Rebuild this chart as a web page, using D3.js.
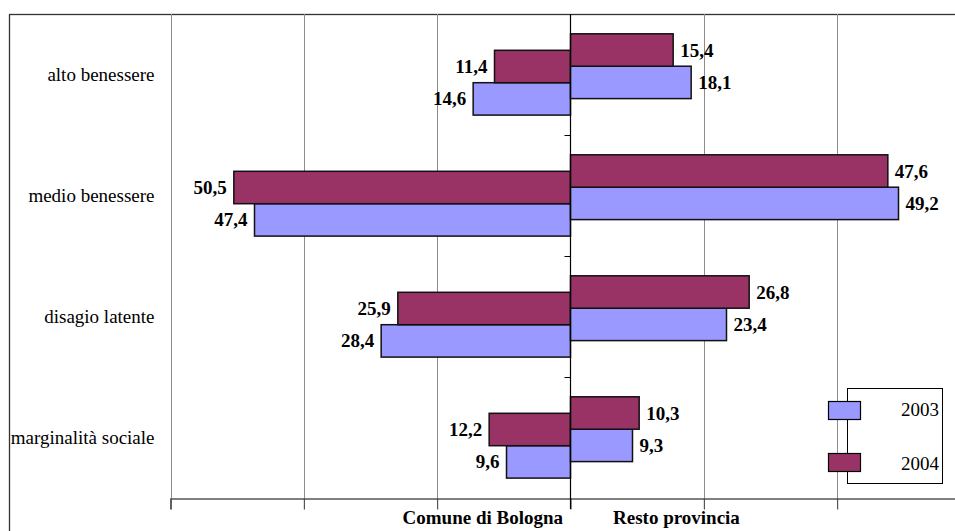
<!DOCTYPE html>
<html>
<head>
<meta charset="utf-8">
<script src="https://cdn.jsdelivr.net/npm/d3@7"></script>
<style>
  html, body { margin: 0; padding: 0; background: #fff; }
  svg { display: block; }
  svg text { font-family: "Liberation Serif", "Times New Roman", Times, "DejaVu Serif", serif; }
</style>
</head>
<body>
<svg id="chart" width="955" height="531"></svg>
<script>
// Categories and values (percentages) for the two areas and two years
const categories = ["alto benessere", "medio benessere", "disagio latente", "marginalità sociale"];
const years = ["2003", "2004"];
const comune2003 = [14.6, 47.4, 28.4, 9.6];
const comune2004 = [11.4, 50.5, 25.9, 12.2];
const provincia2003 = [18.1, 49.2, 23.4, 9.3];
const provincia2004 = [15.4, 47.6, 26.8, 10.3];
const xTicks = [-60, -40, -20, 0, 20, 40, 60];
const sideLabels = ["Comune di Bologna", "Resto provincia"];

const colors = { "2003": "#9999FF", "2004": "#993366" };

const svg = d3.select("#chart");

// Plot geometry
const plotTop = 14, plotBottom = 498;
const x = d3.scaleLinear().domain([-60, 60]).range([170.5, 970.5]);
const y = d3.scaleBand().domain(categories).range([plotTop, plotBottom]).padding(0);
const barH = 32.4;
// each area's pair of bars is shifted slightly off the category centre
const sideShift = { comune: 8.2, provincia: -8.3 };
const inner = d3.scaleBand().domain(["2004", "2003"]).range([0, 2 * barH]);

const fmt = d3.formatLocale({ decimal: ",", thousands: ".", grouping: [3], currency: ["€", ""] }).format(".1f");

// outer frame
svg.append("rect")
  .attr("x", 9.5).attr("y", 14.5)
  .attr("width", 1000).attr("height", 600)
  .attr("fill", "none").attr("stroke", "#333").attr("stroke-width", 1.3);

// vertical gridlines
svg.append("g").selectAll("line")
  .data(xTicks.filter(t => t !== 0))
  .join("line")
  .attr("x1", d => Math.round(x(d)) + 0.5).attr("x2", d => Math.round(x(d)) + 0.5)
  .attr("y1", plotTop).attr("y2", plotBottom)
  .attr("stroke", "#8c8c8c").attr("stroke-width", 1);

// bottom axis
const xAxis = d3.axisBottom(x).tickValues(xTicks).tickSize(11).tickFormat("");
const gx = svg.append("g").attr("transform", `translate(0,${plotBottom + 0.5})`).call(xAxis);
gx.select(".domain").attr("stroke", "#555").attr("stroke-width", 1.3);
gx.selectAll(".tick line").attr("stroke", "#333");

// build rows
const rows = [];
categories.forEach((c, i) => {
  rows.push({ cat: c, side: "comune", year: "2003", v: comune2003[i] });
  rows.push({ cat: c, side: "comune", year: "2004", v: comune2004[i] });
  rows.push({ cat: c, side: "provincia", year: "2003", v: provincia2003[i] });
  rows.push({ cat: c, side: "provincia", year: "2004", v: provincia2004[i] });
});
const barTop = d => y(d.cat) + y.bandwidth() / 2 + sideShift[d.side] - barH + inner(d.year);

svg.append("g").selectAll("rect")
  .data(rows)
  .join("rect")
  .attr("x", d => d.side === "comune" ? x(-d.v) : x(0))
  .attr("width", d => Math.abs(x(d.v) - x(0)))
  .attr("y", barTop)
  .attr("height", barH)
  .attr("fill", d => colors[d.year])
  .attr("stroke", "#111").attr("stroke-width", 1.5);

// value labels
svg.append("g").selectAll("text")
  .data(rows)
  .join("text")
  .attr("x", d => d.side === "comune" ? x(-d.v) - 7 : x(d.v) + 7)
  .attr("y", d => barTop(d) + barH / 2 + 6.5)
  .attr("text-anchor", d => d.side === "comune" ? "end" : "start")
  .attr("font-size", 19).attr("font-weight", "bold")
  .attr("fill", "#000")
  .text(d => fmt(d.v));

// zero axis with category ticks
svg.append("g").selectAll("line")
  .data(categories.slice(1))
  .join("line")
  .attr("x1", x(0) - 6).attr("x2", x(0))
  .attr("y1", d => Math.round(y(d)) + 0.5).attr("y2", d => Math.round(y(d)) + 0.5)
  .attr("stroke", "#000");
svg.append("line")
  .attr("x1", x(0)).attr("x2", x(0))
  .attr("y1", plotTop).attr("y2", plotBottom + 11)
  .attr("stroke", "#000").attr("stroke-width", 1.2);

// category labels
svg.append("g").selectAll("text")
  .data(categories)
  .join("text")
  .attr("x", 154.5)
  .attr("y", d => y(d) + y.bandwidth() / 2 + 6)
  .attr("text-anchor", "end")
  .attr("font-size", 19)
  .attr("fill", "#000")
  .text(d => d);

// area labels under the axis
svg.append("text")
  .attr("x", 563).attr("y", 524).attr("text-anchor", "end")
  .attr("font-size", 19).attr("font-weight", "bold")
  .text(sideLabels[0]);
svg.append("text")
  .attr("x", 613).attr("y", 524).attr("text-anchor", "start")
  .attr("font-size", 19).attr("font-weight", "bold")
  .text(sideLabels[1]);

// legend
const legend = svg.append("g");
legend.append("rect")
  .attr("x", 847.5).attr("y", 388.5).attr("width", 95).attr("height", 95)
  .attr("fill", "#fff").attr("stroke", "#000").attr("stroke-width", 1);
const legendY = { "2003": 401, "2004": 453 };
const legendTextY = { "2003": 415.5, "2004": 470 };
years.forEach(yr => {
  legend.append("rect")
    .attr("x", 828.5).attr("y", legendY[yr] + 0.5).attr("width", 32).attr("height", 18)
    .attr("fill", colors[yr]).attr("stroke", "#000").attr("stroke-width", 1.2);
  legend.append("text")
    .attr("x", 939).attr("y", legendTextY[yr]).attr("text-anchor", "end")
    .attr("font-size", 19)
    .text(yr);
});
</script>
</body>
</html>
